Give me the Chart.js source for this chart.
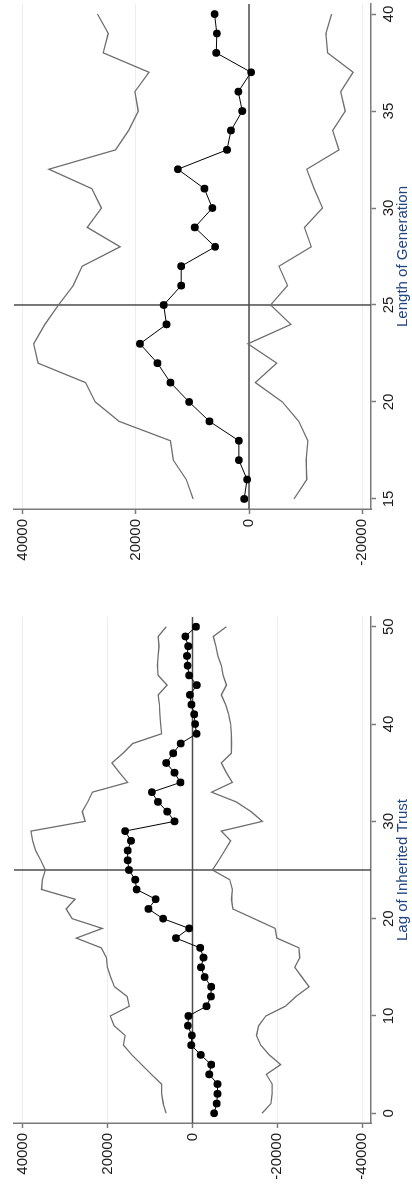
<!DOCTYPE html>
<html>
<head>
<meta charset="utf-8">
<script src="https://cdn.jsdelivr.net/npm/chart.js@4.4.1/dist/chart.umd.min.js"></script>
<style>
  html, body { margin: 0; padding: 0; background: #fff; overflow: hidden; }
  /* the figure is drawn landscape and turned a quarter turn to the left */
  #page {
    position: absolute; left: 0; top: 0;
    width: 1184px; height: 412px;
    transform-origin: 0 0;
    transform: translate(0, 1184px) rotate(-90deg);
    background: #fff;
  }
  #lagChart { position: absolute; left: 0; top: 0; }
  #genChart { position: absolute; left: 614px; top: 0; }
</style>
</head>
<body>
<div id="page">
  <canvas id="lagChart" width="584" height="412"></canvas>
  <canvas id="genChart" width="570" height="412"></canvas>
</div>
<script>
// Panel 1: Lag of Inherited Trust
const lagX = [0, 1, 2, 3, 4, 5, 6, 7, 8, 9, 10, 11, 12, 13, 14, 15, 16, 17, 18, 19, 20,
  21, 22, 23, 24, 25, 26, 27, 28, 29, 30, 31, 32, 33, 34, 35, 36, 37, 38, 39, 40,
  41, 42, 43, 44, 45, 46, 47, 48, 49, 50];
const lagEstimate = [-5100, -5700, -5900, -5900, -3950, -4400, -1950, 300, 150, 1100, 950,
  -3300, -4350, -4400, -2850, -2000, -2600, -1800, 3900, 800, 6950,
  10400, 8700, 13200, 13500, 15000, 15300, 15300, 14500, 15900, 4250,
  5950, 8150, 9600, 2850, 4250, 6200, 4550, 2800, -950, -600,
  -400, 250, 600, -1000, 800, 1150, 1300, 1000, 1700, -800];
const lagUpper = [6200, 6900, 7300, 7300, 9700, 12000, 14300, 16300, 15900, 18500, 19400,
  14900, 15400, 18400, 19300, 20100, 20300, 21500, 27400, 21300, 28400,
  29800, 27700, 35600, 35400, 34700, 35800, 37000, 37700, 38100, 25300,
  26000, 24700, 23600, 15300, 17200, 19000, 16400, 14100, 7300, 7500,
  7700, 7800, 8100, 6000, 8100, 8300, 8100, 7900, 8100, 6200];
const lagLower = [-16400, -18500, -18800, -18800, -17400, -20800, -18100, -16100, -15100, -15600, -17300,
  -21900, -24400, -27500, -25800, -24100, -25300, -25100, -19900, -19500, -14500,
  -9500, -9200, -9400, -8800, -4700, -6200, -7600, -9000, -6800, -16500,
  -13800, -10300, -4500, -9400, -8000, -6800, -9150, -9200, -9150, -9000,
  -8500, -7800, -6800, -8000, -7200, -6800, -6000, -5500, -4900, -8000];
const lagXTicks = [0, 10, 20, 30, 40, 50];
const lagYTicks = [-40000, -20000, 0, 20000, 40000];

// Panel 2: Length of Generation
const genX = [15, 16, 17, 18, 19, 20, 21, 22, 23, 24, 25, 26, 27, 28, 29, 30,
  31, 32, 33, 34, 35, 36, 37, 38, 39, 40];
const genEstimate = [870, 350, 1800, 1800, 7000, 10600, 13900, 16200, 19300, 14600, 15100,
  12000, 12000, 6000, 9600, 6500, 7900, 12600, 3900, 3200, 1200, 1900, -350, 5800, 5700, 6100];
const genUpper = [9900, 11100, 13400, 13900, 23000, 27200, 28900, 37300, 38100, 36100, 33700,
  31100, 29500, 22800, 28600, 26100, 27800, 35400, 23600, 21300, 19600, 20200, 17700, 25800, 24900, 26800];
const genLower = [-7950, -10200, -10100, -10400, -8800, -5900, -1100, -4900, 200, -7400, -3800,
  -6800, -5300, -11000, -9800, -13000, -11500, -10200, -15900, -14800, -17000, -16200, -18400, -13900, -13600, -14600];
const genXTicks = [15, 20, 25, 30, 35, 40];
const genYTicks = [-20000, 0, 20000, 40000];

// reference lines (xline / yline)
const refX = 25;
const refY = 0;

const axisColor = '#7a7a7a';
const gridColor = '#e6eff1';
const ciColor = '#6e6e6e';
const tickFont = { family: "'Liberation Sans', Arial, sans-serif", size: 15 };

// draws the two dark reference lines under the data
const refLines = {
  id: 'refLines',
  beforeDatasetsDraw: function(chart, args, opts) {
    const ctx = chart.ctx;
    const a = chart.chartArea;
    const px = chart.scales.x.getPixelForValue(opts.x);
    const py = chart.scales.y.getPixelForValue(opts.y);
    ctx.save();
    ctx.strokeStyle = '#4d4d4d';
    ctx.lineWidth = 1.5;
    ctx.beginPath();
    ctx.moveTo(a.left, py);
    ctx.lineTo(a.right, py);
    ctx.moveTo(px, a.top);
    ctx.lineTo(px, a.bottom);
    ctx.stroke();
    ctx.restore();
  }
};

function toPoints(xs, ys) {
  return xs.map(function(x, i) { return { x: x, y: ys[i] }; });
}

function makePanel(id, cfg) {
  return new Chart(document.getElementById(id), {
    type: 'line',
    data: {
      datasets: [
        {
          data: toPoints(cfg.xs, cfg.estimate),
          borderColor: '#000',
          borderWidth: 1,
          pointRadius: 3.9,
          pointBackgroundColor: '#000',
          pointBorderWidth: 0
        },
        {
          data: toPoints(cfg.xs, cfg.upper),
          borderColor: ciColor,
          borderWidth: 1.3,
          pointRadius: 0
        },
        {
          data: toPoints(cfg.xs, cfg.lower),
          borderColor: ciColor,
          borderWidth: 1.3,
          pointRadius: 0
        }
      ]
    },
    options: {
      responsive: false,
      animation: false,
      layout: { padding: { top: 8, right: cfg.padRight, left: 0, bottom: 0 } },
      plugins: {
        legend: { display: false },
        tooltip: { enabled: false },
        refLines: { x: refX, y: refY }
      },
      scales: {
        x: {
          type: 'linear',
          min: cfg.xMin,
          max: cfg.xMax,
          afterBuildTicks: function(s) { s.ticks = cfg.xTicks.map(function(v) { return { value: v }; }); },
          afterFit: function(s) { s.height = 41; },
          grid: { drawOnChartArea: false, tickLength: 5, tickColor: axisColor, tickWidth: 1.5 },
          border: { color: axisColor, width: 1.5 },
          ticks: { font: tickFont, color: '#1a1a1a', padding: 4, maxRotation: 0, autoSkip: false },
          title: {
            display: true,
            text: cfg.title,
            font: tickFont,
            color: '#1f4583',
            padding: { top: 0, bottom: 0 }
          }
        },
        y: {
          type: 'linear',
          min: cfg.yMin,
          max: cfg.yMax,
          afterBuildTicks: function(s) { s.ticks = cfg.yTicks.map(function(v) { return { value: v }; }); },
          afterFit: function(s) { s.width = 61; },
          grid: { color: gridColor, lineWidth: 1, tickLength: 5, tickColor: axisColor, tickWidth: 1.5 },
          border: { color: axisColor, width: 1.5 },
          ticks: {
            font: tickFont,
            color: '#1a1a1a',
            padding: 5,
            autoSkip: false,
            callback: function(v) { return String(v); }
          }
        }
      }
    },
    plugins: [refLines]
  });
}

makePanel('lagChart', {
  xs: lagX, estimate: lagEstimate, upper: lagUpper, lower: lagLower,
  xTicks: lagXTicks, yTicks: lagYTicks,
  xMin: -1, xMax: 51, yMin: -42100, yMax: 42100,
  padRight: 17, title: 'Lag of Inherited Trust'
});

makePanel('genChart', {
  xs: genX, estimate: genEstimate, upper: genUpper, lower: genLower,
  xTicks: genXTicks, yTicks: genYTicks,
  xMin: 14.48, xMax: 40.52, yMin: -21565, yMax: 41565,
  padRight: 3, title: 'Length of Generation'
});
</script>
</body>
</html>
